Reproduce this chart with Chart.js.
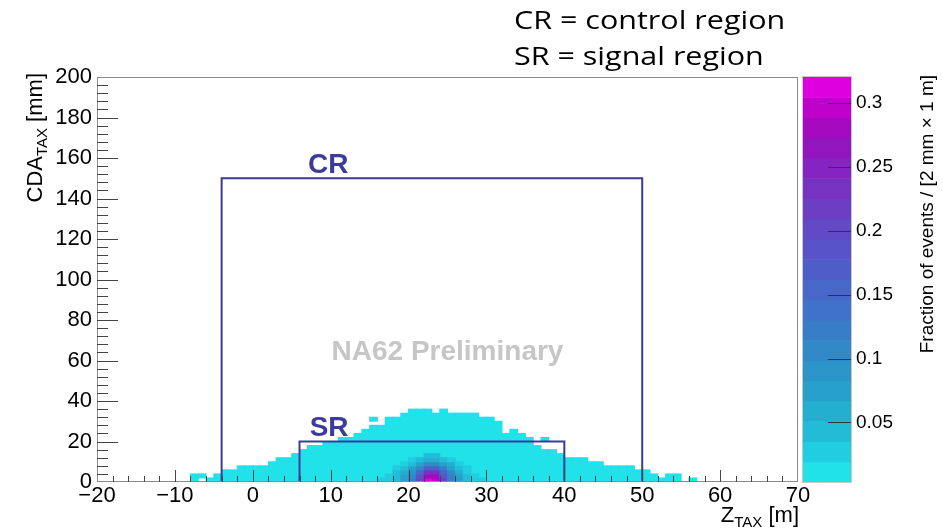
<!DOCTYPE html>
<html>
<head>
<meta charset="utf-8">
<script src="https://cdn.jsdelivr.net/npm/chart.js@4.4.1/dist/chart.umd.min.js"></script>
<style>
  html, body { margin: 0; padding: 0; background: #fff; }
  #wrap { position: relative; width: 943px; height: 528px; overflow: hidden; }
  #regions { position: absolute; left: 514px; top: 1px; font-family: "Open Sans", sans-serif;
             font-size: 25px; line-height: 36px; color: #000; white-space: nowrap;
             transform: scaleX(1.22); transform-origin: left top; }
</style>
</head>
<body>
<div id="wrap">
  <canvas id="hist" width="943" height="528"></canvas>
  <div id="regions">CR = control region<br>SR = signal region</div>
</div>
<script>
// Z_TAX bins (1 m wide, lower edge) and the CDA_TAX range (mm) filled in each column
const zBinLow = [-8, -7, -6, -5, -4, -3, -2, -1, 0, 1,
                 2, 3, 4, 5, 6, 7, 8, 9, 10, 11,
                 12, 13, 14, 15, 16, 17, 18, 19, 20, 21,
                 22, 23, 24, 25, 26, 27, 28, 29, 30, 31,
                 32, 33, 34, 35, 36, 37, 38, 39, 40, 41,
                 42, 43, 44, 45, 46, 47, 48, 49, 50, 51,
                 52, 53, 54, 55, 56];
const cdaLow = [0, 2, 0, 0, 0, 0, 0, 0, 0, 0,
                0, 0, 0, 0, 0, 0, 0, 0, 0, 0,
                0, 0, 0, 0, 0, 0, 0, 0, 0, 0,
                0, 0, 0, 0, 0, 0, 0, 0, 0, 0,
                0, 0, 0, 0, 0, 0, 0, 0, 0, 0,
                0, 0, 0, 0, 0, 0, 0, 0, 0, 0,
                0, 0, 0, 0, 0];
const cdaHigh = [4, 4, 2, 4, 6, 6, 8, 8, 8, 8,
                 10, 12, 12, 14, 16, 18, 18, 20, 20, 22,
                 22, 24, 26, 28, 28, 32, 32, 34, 36, 36,
                 36, 34, 36, 34, 34, 34, 34, 32, 32, 30,
                 24, 26, 24, 22, 18, 16, 16, 14, 12, 12,
                 12, 10, 10, 8, 8, 8, 8, 6, 6, 4,
                 2, 4, 4, 0, 2];
// isolated low-content cells
const islandZ = [15, 37];
const islandLow = [30, 20];
const islandHigh = [32, 22];

// populated core around the target: fraction of events per 2 mm x 1 m cell
const coreZLow = [16, 17, 18, 19, 20, 21, 22, 23, 24, 25, 26, 27, 28, 29];
const coreCdaLow = [0, 2, 4, 6, 8, 10, 12];
const coreFraction = [
  [0.020, 0.035, 0.050, 0.080, 0.120, 0.200, 0.310, 0.300, 0.215, 0.130, 0.080, 0.050, 0.035, 0.020],
  [0, 0.025, 0.045, 0.070, 0.110, 0.180, 0.280, 0.280, 0.190, 0.120, 0.070, 0.045, 0.025, 0],
  [0, 0, 0.040, 0.060, 0.090, 0.150, 0.230, 0.230, 0.160, 0.100, 0.060, 0.035, 0, 0],
  [0, 0, 0.030, 0.050, 0.070, 0.110, 0.170, 0.170, 0.120, 0.080, 0.050, 0.025, 0, 0],
  [0, 0, 0, 0.035, 0.050, 0.070, 0.110, 0.110, 0.080, 0.060, 0.035, 0, 0, 0],
  [0, 0, 0, 0, 0.035, 0.045, 0.060, 0.060, 0.045, 0.035, 0, 0, 0, 0],
  [0, 0, 0, 0, 0, 0, 0.040, 0.040, 0, 0, 0, 0, 0, 0]
];

// region boxes
const crZ = [-4, -4, 50, 50];
const crCda = [0, 150, 150, 0];
const srZ = [6, 6, 40, 40];
const srCda = [0, 20, 20, 0];

const xTicks = [-20, -10, 0, 10, 20, 30, 40, 50, 60, 70];
const yTicks = [0, 20, 40, 60, 80, 100, 120, 140, 160, 180, 200];
const cbTicks = [0.05, 0.1, 0.15, 0.2, 0.25, 0.3];
const cbMin = 0.0035, cbMax = 0.32;

const palette = ['#21e1e9', '#21cde0', '#22bcd8', '#24aed0', '#27a1cc', '#2b95c9', '#3189c8', '#387dc8',
                 '#3f72c8', '#4768c8', '#4f5dc8', '#5853c8', '#6249c6', '#6c3ec4', '#7832c1', '#8524c0',
                 '#9216bd', '#a40bc0', '#be02cb', '#df00df'];
const boxColor = '#3b3b9c';
const FONT = '"Liberation Sans", Arial, Helvetica, sans-serif';

function levelColor(v) {
  const n = palette.length;
  let i = Math.floor((v - cbMin) / ((cbMax - cbMin) / n));
  return palette[Math.max(0, Math.min(n - 1, i))];
}

const envelope = [];
zBinLow.forEach((z, i) => {
  if (cdaHigh[i] > cdaLow[i]) envelope.push({ x: z + 0.5, y: [cdaLow[i], cdaHigh[i]] });
});
islandZ.forEach((z, i) => envelope.push({ x: z + 0.5, y: [islandLow[i], islandHigh[i]] }));

const core = [];
coreFraction.forEach((row, r) => {
  row.forEach((v, c) => {
    if (v > 0) core.push({ x: coreZLow[c] + 0.5, y: [coreCdaLow[r], coreCdaLow[r] + 2], v: v });
  });
});

const fmt = v => (v < 0 ? '\u2212' + Math.abs(v) : String(v));

const decor = {
  id: 'decor',
  afterDatasetsDraw(chart) {
    const { ctx, chartArea: a, scales: { x, y, cb } } = chart;
    ctx.save();
    // frame
    ctx.strokeStyle = '#8a8a8a';
    ctx.lineWidth = 1;
    ctx.strokeRect(a.left + 0.5, a.top + 0.5, a.right - a.left - 1, a.bottom - a.top - 1);
    // inward ticks
    ctx.strokeStyle = '#444';
    ctx.beginPath();
    for (let v = -18; v < 70; v += 2) {
      const px = Math.round(x.getPixelForValue(v)) + 0.5;
      const len = v % 10 === 0 ? 12 : 6;
      ctx.moveTo(px, a.bottom);
      ctx.lineTo(px, a.bottom - len);
    }
    for (let v = 4; v < 200; v += 4) {
      const py = Math.round(y.getPixelForValue(v)) + 0.5;
      const len = v % 20 === 0 ? 21 : 11;
      ctx.moveTo(a.left, py);
      ctx.lineTo(a.left + len, py);
    }
    ctx.stroke();

    // colour bar
    const cbL = a.right + 5, cbW = 48;
    const step = (cbMax - cbMin) / palette.length;
    palette.forEach((c, i) => {
      const top = cb.getPixelForValue(cbMin + (i + 1) * step);
      const bot = cb.getPixelForValue(cbMin + i * step);
      ctx.fillStyle = c;
      ctx.fillRect(cbL, top, cbW, bot - top + 0.5);
    });
    ctx.strokeStyle = '#c8c8c8';
    ctx.strokeRect(cbL - 0.5, a.top - 0.5, cbW + 1, a.bottom - a.top + 1);
    ctx.strokeStyle = '#333';
    ctx.beginPath();
    cbTicks.forEach(v => {
      const py = Math.round(cb.getPixelForValue(v)) + 0.5;
      ctx.moveTo(cbL + cbW, py);
      ctx.lineTo(cbL + cbW - 23, py);
    });
    ctx.stroke();

    // region labels and watermark
    ctx.textAlign = 'center';
    ctx.textBaseline = 'middle';
    ctx.fillStyle = boxColor;
    ctx.font = 'bold 28px ' + FONT;
    ctx.fillText('CR', x.getPixelForValue(9.7), y.getPixelForValue(156.5));
    ctx.fillText('SR', x.getPixelForValue(9.8), y.getPixelForValue(26.5));
    ctx.fillStyle = '#c6c6c6';
    ctx.fillText('NA62 Preliminary', x.getPixelForValue(25.0), y.getPixelForValue(64));

    // axis titles
    ctx.fillStyle = '#000';
    ctx.textBaseline = 'alphabetic';
    ctx.textAlign = 'left';
    const big = '22px ' + FONT, small = '15px ' + FONT;
    // x title: Z_TAX [m], right aligned to frame
    ctx.font = big; const wZ = ctx.measureText('Z').width, wM = ctx.measureText(' [m]').width;
    ctx.font = small; const wT = ctx.measureText('TAX').width;
    let sx = a.right + 1 - (wZ + wT + wM);
    ctx.font = big; ctx.fillText('Z', sx, 522);
    ctx.font = small; ctx.fillText('TAX', sx + wZ, 527);
    ctx.font = big; ctx.fillText(' [m]', sx + wZ + wT, 522);

    // y title: CDA_TAX [mm], rotated, right aligned to top
    ctx.save();
    ctx.translate(42, a.top - 4);
    ctx.rotate(-Math.PI / 2);
    ctx.font = big; const wC = ctx.measureText('CDA').width, wB = ctx.measureText(' [mm]').width;
    ctx.font = small; const wT2 = ctx.measureText('TAX').width;
    sx = -(wC + wT2 + wB);
    ctx.font = big; ctx.fillText('CDA', sx, 0);
    ctx.font = small; ctx.fillText('TAX', sx + wC, 5);
    ctx.font = big; ctx.fillText(' [mm]', sx + wC + wT2, 0);
    ctx.restore();

    // colour bar title
    ctx.save();
    ctx.translate(933, a.top - 2);
    ctx.rotate(-Math.PI / 2);
    ctx.textAlign = 'right';
    ctx.font = '19px ' + FONT;
    ctx.fillText('Fraction of events / [2 mm \u00d7 1 m]', 0, 0);
    ctx.restore();
    ctx.restore();
  }
};

Chart.defaults.font.family = FONT;
Chart.defaults.color = '#000';

new Chart(document.getElementById('hist').getContext('2d'), {
  type: 'bar',
  data: {
    datasets: [
      {
        type: 'line', label: 'CR', order: 0,
        data: crZ.map((z, i) => ({ x: z, y: crCda[i] })),
        borderColor: boxColor, borderWidth: 2, pointRadius: 0, tension: 0, fill: false
      },
      {
        type: 'line', label: 'SR', order: 0,
        data: srZ.map((z, i) => ({ x: z, y: srCda[i] })),
        borderColor: boxColor, borderWidth: 2, pointRadius: 0, tension: 0, fill: false
      },
      {
        label: 'core', order: 1, data: core, grouped: false,
        backgroundColor: core.map(d => levelColor(d.v)),
        borderWidth: 0, barPercentage: 1, categoryPercentage: 1, inflateAmount: 0.5
      },
      {
        label: 'all', order: 2, data: envelope, grouped: false,
        backgroundColor: palette[0],
        borderWidth: 0, barPercentage: 1, categoryPercentage: 1, inflateAmount: 0.5
      }
    ]
  },
  options: {
    responsive: false,
    animation: false,
    events: [],
    layout: { padding: { top: 77, left: 0, right: 0, bottom: 0 } },
    plugins: { legend: { display: false }, tooltip: { enabled: false } },
    scales: {
      x: {
        type: 'linear', min: -20, max: 70, offset: false,
        grid: { display: false, drawTicks: false }, border: { display: false },
        afterBuildTicks: s => { s.ticks = xTicks.map(v => ({ value: v })); },
        afterFit: s => { s.height = 46; },
        ticks: { font: { size: 22 }, padding: 1, maxRotation: 0, autoSkip: false, callback: v => fmt(v) }
      },
      y: {
        type: 'linear', min: 0, max: 200,
        grid: { display: false, drawTicks: false }, border: { display: false },
        afterBuildTicks: s => { s.ticks = yTicks.map(v => ({ value: v })); },
        afterFit: s => { s.width = 97; },
        ticks: { font: { size: 22 }, padding: 5, autoSkip: false, callback: v => String(v) }
      },
      cb: {
        type: 'linear', position: 'right', min: cbMin, max: cbMax,
        grid: { display: false, drawTicks: true, tickLength: 55 }, border: { display: false },
        afterBuildTicks: s => { s.ticks = cbTicks.map(v => ({ value: v })); },
        afterFit: s => { s.width = 145; },
        ticks: { font: { size: 19 }, padding: 3, autoSkip: false, callback: v => String(+v.toFixed(2)) }
      }
    }
  },
  plugins: [decor]
});
</script>
</body>
</html>
